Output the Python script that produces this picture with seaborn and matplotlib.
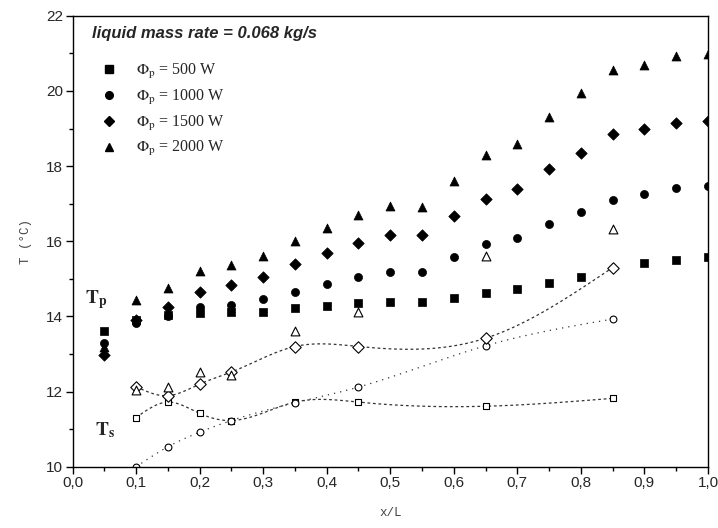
"""
Wall (Tp) and fluid (Ts) temperature profiles along x/L for four heating powers.
"""

import numpy as np
import pandas as pd
import seaborn as sns
import matplotlib.pyplot as plt
from matplotlib.lines import Line2D
from matplotlib.ticker import MultipleLocator, FuncFormatter

# wall temperature Tp, filled markers
x_p = [0.05, 0.10, 0.15, 0.20, 0.25, 0.30, 0.35, 0.40, 0.45, 0.50,
       0.55, 0.60, 0.65, 0.70, 0.75, 0.80, 0.85, 0.90, 0.95, 1.00]
tp_500 = [13.61, 13.90, 14.03, 14.08, 14.11, 14.13, 14.23, 14.28, 14.37, 14.38,
          14.38, 14.48, 14.63, 14.73, 14.88, 15.06, np.nan, 15.41, 15.50, 15.59]
tp_1000 = [13.30, 13.82, 14.02, 14.24, 14.31, 14.47, 14.66, 14.86, 15.04, 15.18,
           15.18, 15.57, 15.92, 16.08, 16.46, 16.77, 17.11, 17.25, 17.43, 17.48]
tp_1500 = [12.97, 13.91, 14.26, 14.65, 14.83, 15.06, 15.39, 15.68, 15.95, 16.16,
           16.17, 16.66, 17.12, 17.39, 17.92, 18.36, 18.86, 18.98, 19.16, 19.21]
tp_2000 = [13.20, 14.44, 14.75, 15.21, 15.36, 15.61, 16.02, 16.35, 16.70, 16.93,
           16.92, 17.60, 18.30, 18.59, 19.30, 19.94, 20.56, 20.70, 20.94, 20.98]

# fluid temperature Ts, open markers
x_s = [0.10, 0.15, 0.20, 0.25, 0.35, 0.45, 0.65, 0.85]
ts_500 = [11.31, 11.72, 11.42, 11.23, 11.72, 11.72, 11.61, 11.82]
ts_1000 = [10.00, 10.53, 10.92, 11.23, 11.70, 12.12, 13.22, 13.93]
ts_1500 = [12.13, 11.89, 12.20, 12.52, 13.20, 13.20, 13.42, 15.30]
ts_2000 = [12.04, 12.13, 12.52, 12.44, 13.62, 14.13, 15.62, 16.33]

powers = ["500", "1000", "1500", "2000"]
markers = ["s", "o", "D", "^"]


def natural_spline(x, y, n=200):
    """Natural cubic spline through the points, for the smooth guide curves."""
    x = np.asarray(x, float)
    y = np.asarray(y, float)
    k = len(x)
    h = np.diff(x)
    a = np.zeros((k, k))
    b = np.zeros(k)
    a[0, 0] = a[-1, -1] = 1
    for i in range(1, k - 1):
        a[i, i - 1] = h[i - 1]
        a[i, i] = 2 * (h[i - 1] + h[i])
        a[i, i + 1] = h[i]
        b[i] = 3 * ((y[i + 1] - y[i]) / h[i] - (y[i] - y[i - 1]) / h[i - 1])
    c = np.linalg.solve(a, b)
    xs = np.linspace(x[0], x[-1], n)
    idx = np.clip(np.searchsorted(x, xs) - 1, 0, k - 2)
    dx = xs - x[idx]
    bb = (y[idx + 1] - y[idx]) / h[idx] - h[idx] * (2 * c[idx] + c[idx + 1]) / 3
    dd = (c[idx + 1] - c[idx]) / (3 * h[idx])
    ys = y[idx] + bb * dx + c[idx] * dx ** 2 + dd * dx ** 3
    return xs, ys


sns.set_style("white")
plt.rcParams["font.family"] = ["Liberation Sans", "DejaVu Sans"]
plt.rcParams["mathtext.fontset"] = "stix"

fig = plt.figure(figsize=(7.18, 5.28), dpi=100)
ax = fig.add_axes([0.101, 0.116, 0.885, 0.854])

# guide curves through Ts points
curves = [(ts_500, (0, (2.2, 2.2))), (ts_1000, (0, (1, 4))), (ts_1500, (0, (2.2, 2.2)))]
for ts, dash in curves:
    xs, ys = natural_spline(x_s, ts)
    sns.lineplot(x=xs, y=ys, color="#333333", lw=0.9, linestyle=dash,
                 sort=False, estimator=None, ax=ax, zorder=1)

tp_all = [tp_500, tp_1000, tp_1500, tp_2000]
ts_all = [ts_500, ts_1000, ts_1500, ts_2000]
sizes = [26, 34, 34, 42]
open_sizes = [22, 24, 34, 40]
for tp, ts, m, s, so in zip(tp_all, ts_all, markers, sizes, open_sizes):
    df_p = pd.DataFrame({"x": x_p, "T": tp}).dropna()
    sns.scatterplot(data=df_p, x="x", y="T", marker=m, s=s, color="black",
                    edgecolor="black", linewidth=0.5, ax=ax, zorder=3)
    sns.scatterplot(x=x_s, y=ts, marker=m, s=so, facecolor="white",
                    edgecolor="black", linewidth=0.8, ax=ax, zorder=2)

ax.set_xlim(0, 1.0)
ax.set_ylim(10, 22)
ax.xaxis.set_major_locator(MultipleLocator(0.1))
ax.xaxis.set_minor_locator(MultipleLocator(0.05))
ax.yaxis.set_major_locator(MultipleLocator(2))
ax.yaxis.set_minor_locator(MultipleLocator(1))
ax.xaxis.set_major_formatter(FuncFormatter(lambda v, p: f"{v:.1f}".replace(".", ",")))
ax.yaxis.set_major_formatter(FuncFormatter(lambda v, p: f"{v:.0f}"))
ax.tick_params(which="both", direction="out", bottom=True, left=True,
               top=False, right=False, color="black", labelsize=11, pad=2)
ax.tick_params(which="major", length=5, width=1)
ax.tick_params(which="minor", length=3, width=1)
for sp in ax.spines.values():
    sp.set_color("black")
    sp.set_linewidth(1)

ax.set_xlabel("x/L", family="Liberation Mono", fontsize=9, color="#444444", labelpad=12)
ax.set_ylabel("T (°C)", family="Liberation Mono", fontsize=9, color="#444444", labelpad=10)

ax.text(0.031, 0.96, "liquid mass rate = 0.068 kg/s", transform=ax.transAxes,
        fontsize=12, fontweight="bold", fontstyle="italic", va="center")

handles = [Line2D([], [], marker=m, color="black", linestyle="none", markersize=5.5)
           for m in markers]
labels = [rf"$\Phi_\mathrm{{p}}$ = {p} W" for p in powers]
ax.legend(handles, labels, loc="upper left", bbox_to_anchor=(0.032, 0.915),
          frameon=False, borderpad=0, handlelength=1.0, handletextpad=1.2,
          labelspacing=0.42, prop={"family": "Liberation Serif", "size": 11.5})

ax.text(0.019, 14.45, r"$\mathbf{T_p}$", fontsize=14, va="center")
ax.text(0.035, 10.98, r"$\mathbf{T_s}$", fontsize=14, va="center")

fig.savefig("out.png", dpi=100)
